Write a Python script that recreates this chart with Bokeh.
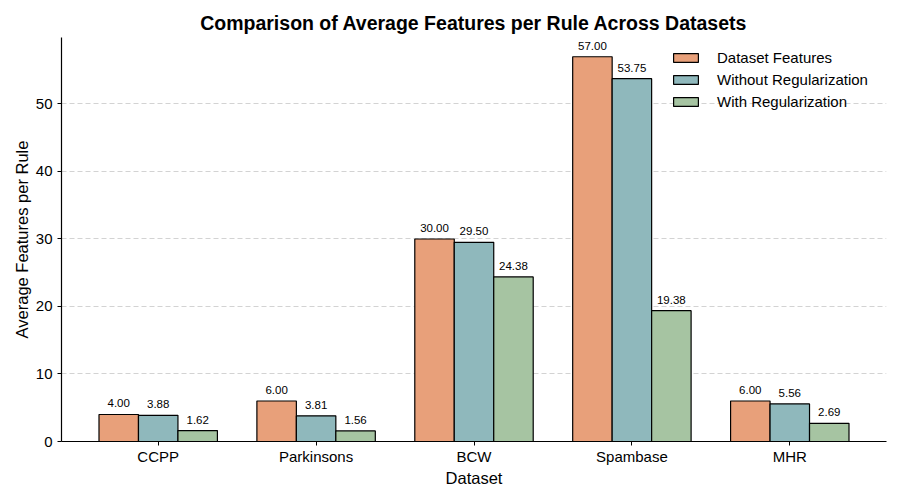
from bokeh.plotting import figure
from bokeh.models import ColumnDataSource, LabelSet, Legend, LegendItem, FixedTicker, Range1d
from bokeh.core.properties import value
from bokeh.transform import dodge
from bokeh.embed import file_html
from bokeh.resources import INLINE

datasets = ["CCPP", "Parkinsons", "BCW", "Spambase", "MHR"]
dataset_features = [4.00, 6.00, 30.00, 57.00, 6.00]
without_reg = [3.88, 3.81, 29.50, 53.75, 5.56]
with_reg = [1.62, 1.56, 24.38, 19.38, 2.69]
series_names = ["Dataset Features", "Without Regularization", "With Regularization"]
colors = ["#E8A07A", "#8FB8BC", "#A6C4A2"]

idx = list(range(len(datasets)))
src = ColumnDataSource(dict(
    x=idx,
    a=dataset_features, b=without_reg, c=with_reg,
    at=[f"{v:.2f}" for v in dataset_features],
    bt=[f"{v:.2f}" for v in without_reg],
    ct=[f"{v:.2f}" for v in with_reg],
))

FONT = "Liberation Sans"
p = figure(width=892, height=492, output_backend="svg", toolbar_location=None,
           x_range=Range1d(-0.6125, 4.6125), y_range=Range1d(0, 59.85),
           min_border_left=61, min_border_right=6, min_border_bottom=51, min_border_top=37)

w = 0.25
offsets = [-w, 0, w]
renderers = []
for col, off, colr in zip(["a", "b", "c"], offsets, colors):
    r = p.vbar(x=dodge("x", off), top=col, width=w, source=src,
               fill_color=colr, line_color="black", line_width=1.2)
    renderers.append(r)
    lbl = LabelSet(x=dodge("x", off), y=col, text=col + "t", source=src,
                   text_align="center", text_baseline="bottom", y_offset=7,
                   text_font=value(FONT), text_font_size="11.5px", text_color="black")
    p.add_layout(lbl)

legend = Legend(items=[LegendItem(label=n, renderers=[r]) for n, r in zip(series_names, renderers)],
                location=(609, 331), border_line_color=None, background_fill_alpha=0,
                label_text_font=FONT, label_text_font_size="15px", label_text_color="black",
                glyph_width=31, glyph_height=11, label_standoff=16, spacing=5,
                padding=5, margin=0, label_height=12)
p.add_layout(legend)

p.title.text = "Comparison of Average Features per Rule Across Datasets"
p.title.align = "center"
p.title.text_font = FONT
p.title.text_font_size = "19.5px"
p.title.text_font_style = "bold"
p.title.text_color = "black"
p.title.standoff = 8

p.xaxis.ticker = FixedTicker(ticks=idx)
p.xaxis.major_label_overrides = {i: d for i, d in enumerate(datasets)}
p.yaxis.ticker = FixedTicker(ticks=[0, 10, 20, 30, 40, 50])
p.xaxis.axis_label = "Dataset"
p.yaxis.axis_label = "Average Features per Rule"
for ax in (p.xaxis, p.yaxis):
    ax.axis_label_text_font = FONT
    ax.axis_label_text_font_size = "16.5px"
    ax.axis_label_text_font_style = "normal"
    ax.axis_label_text_color = "black"
    ax.major_label_text_font = FONT
    ax.major_label_text_font_size = "15px"
    ax.major_label_text_color = "black"
    ax.axis_line_color = "black"
    ax.axis_line_width = 1.2
    ax.major_tick_line_color = "black"
    ax.major_tick_out = 4
    ax.major_tick_in = 0
    ax.minor_tick_line_color = None
p.xaxis.major_label_standoff = 2
p.xaxis.axis_label_standoff = 1
p.yaxis.axis_label_standoff = 2

p.xgrid.grid_line_color = None
p.ygrid.grid_line_color = "#c8c8c8"
p.ygrid.grid_line_dash = "5 3"
p.ygrid.grid_line_width = 0.8
p.outline_line_color = None

open("out.html", "w").write(file_html(p, INLINE))
